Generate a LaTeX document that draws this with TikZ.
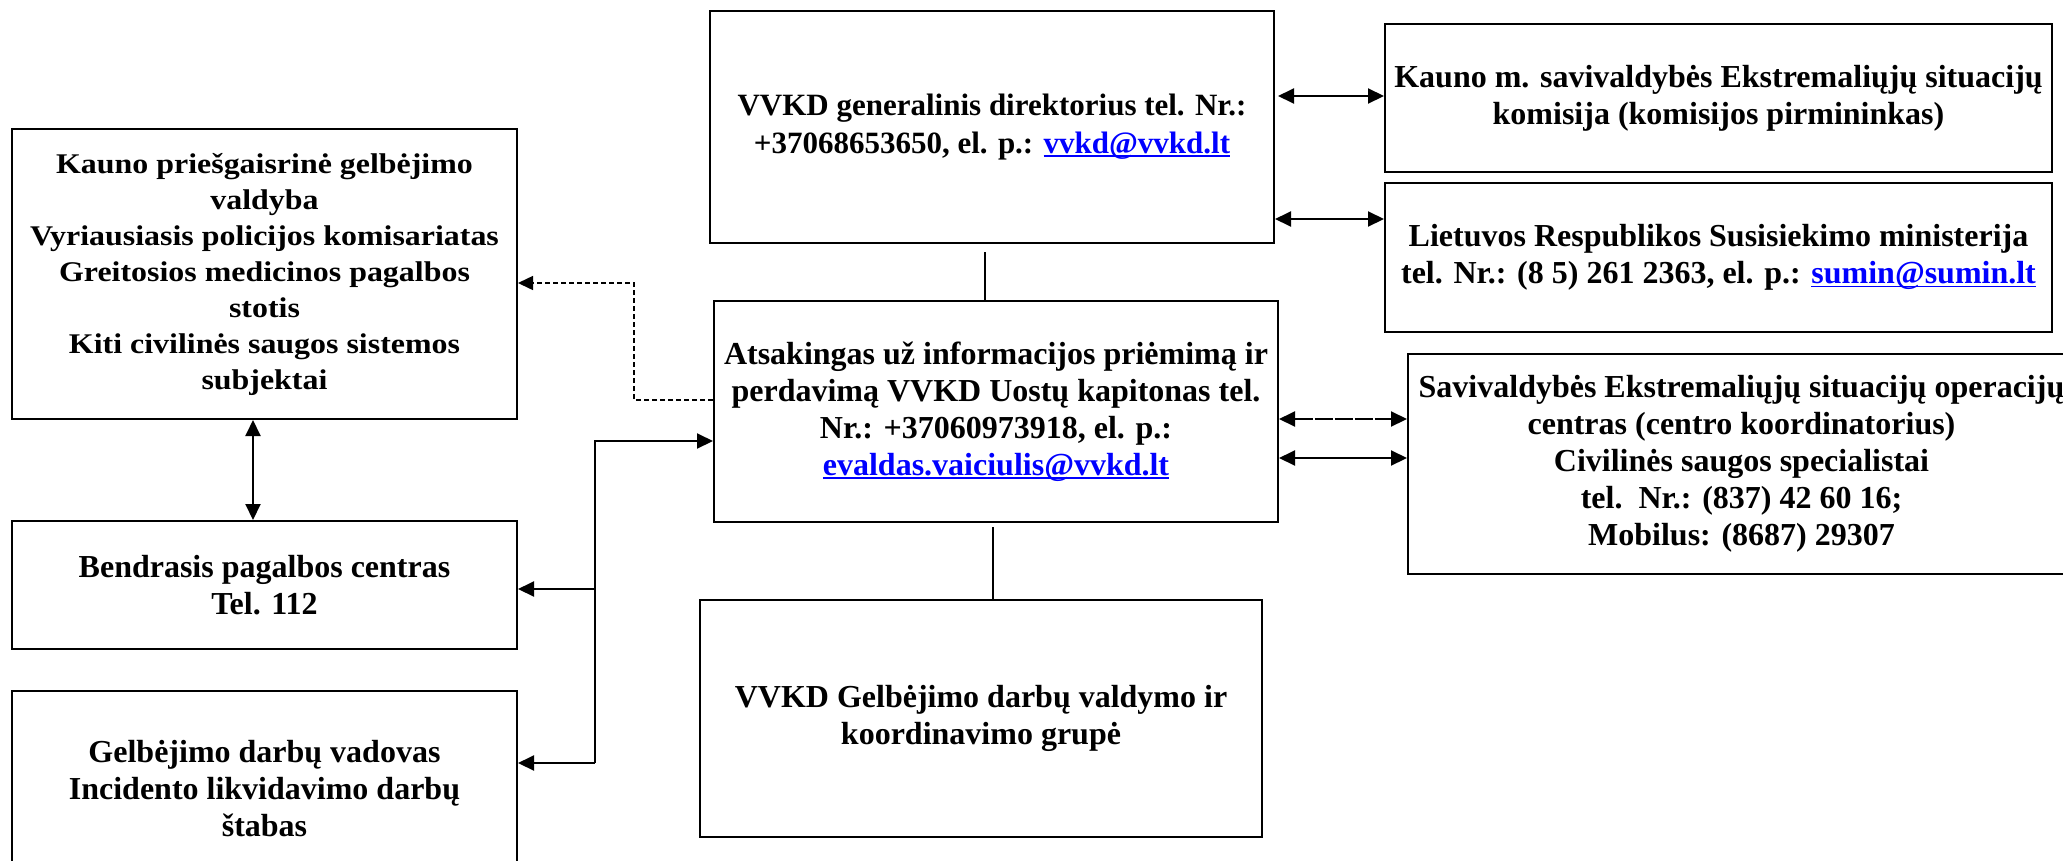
\documentclass[tikz,border=0pt]{standalone}
\usepackage{fontspec}
\setmainfont{Liberation Serif}
\newfontfamily\widefont{Liberation Serif}[FakeStretch=1.12]
\usetikzlibrary{arrows.meta}
\definecolor{linkblue}{RGB}{0,0,255}
\newcommand\mylink[1]{\textcolor{linkblue}{\setbox0\hbox{#1}\rlap{\rule[-3.5pt]{\wd0}{1.6pt}}\box0}}
\begin{document}
\begin{tikzpicture}[x=1pt,y=-1pt,
  box/.style={draw, line width=2pt, align=center, inner sep=0pt,
    font=\bfseries\fontsize{32}{37}\selectfont},
  conn/.style={line width=2pt},
  thinconn/.style={line width=1.3pt},
  tip/.style={conn,-{Triangle[length=16pt,width=15pt]}},
  dbl/.style={conn,{Triangle[length=16pt,width=15pt]}-{Triangle[length=16pt,width=15pt]}},
  dashconn/.style={line width=1.5pt, dash pattern=on 5pt off 3pt, -{Triangle[length=15pt,width=14pt]}}
]
\useasboundingbox (0,0) rectangle (2063,860);
\fill[white] (0,0) rectangle (2063,860);

% left column
\node[box, minimum width=505pt, minimum height=290pt,
  font=\widefont\bfseries\fontsize{28.5}{36}\selectfont] (A) at (264.5,274)
  {Kauno priešgaisrinė gelbėjimo\\ valdyba\\ Vyriausiasis policijos komisariatas\\
   Greitosios medicinos pagalbos\\ stotis\\ Kiti civilinės saugos sistemos\\ subjektai};
\node[box, minimum width=505pt, minimum height=128pt] (B) at (264.5,585)
  {Bendrasis pagalbos centras\\ Tel. 112};
\node[box, minimum width=505pt, minimum height=196pt] (C) at (264.5,789)
  {Gelbėjimo darbų vadovas\\ Incidento likvidavimo darbų\\ štabas};

% middle column
\node[box, minimum width=564pt, minimum height=232pt,
  font=\bfseries\fontsize{31}{38}\selectfont] (D) at (992,127)
  {VVKD generalinis direktorius tel. Nr.:\\ +37068653650, el. p.: \mylink{vvkd@vvkd.lt}};
\node[box, minimum width=564pt, minimum height=221pt] (E) at (996,411.5)
  {Atsakingas už informacijos priėmimą ir\\ perdavimą VVKD Uostų kapitonas tel.\\
   Nr.: +37060973918, el. p.:\\ \mylink{evaldas.vaiciulis@vvkd.lt}};
\node[box, minimum width=562pt, minimum height=237pt] (G) at (981,718.5)
  {VVKD Gelbėjimo darbų valdymo ir\\ koordinavimo grupė};

% right column
\node[box, minimum width=667pt, minimum height=148pt] (F) at (1718.5,98)
  {Kauno m. savivaldybės Ekstremaliųjų situacijų\\ komisija (komisijos pirmininkas)};
\node[box, minimum width=667pt, minimum height=149pt] (H) at (1718.5,257.5)
  {Lietuvos Respublikos Susisiekimo ministerija\\ tel. Nr.: (8 5) 261 2363, el. p.: \mylink{sumin@sumin.lt}};
\node[box, minimum width=667pt, minimum height=220pt] (I) at (1741.5,464)
  {Savivaldybės Ekstremaliųjų situacijų operacijų\\ centras (centro koordinatorius)\\
   Civilinės saugos specialistai\\ tel.\ \ Nr.: (837) 42 60 16;\\ Mobilus: (8687) 29307};

% helper coordinates
\coordinate (d1) at (634,400);
\coordinate (d2) at (634,283);
\coordinate (s1) at (595,441);
\coordinate (s2) at (595,589);
\coordinate (s3) at (595,763);
\coordinate (ab) at (253,0);
\coordinate (de) at (985,252);
\coordinate (eg) at (993,527);
\coordinate (r1) at (1278,96);
\coordinate (r2) at (0,219);
\coordinate (r3) at (0,419);
\coordinate (r4) at (0,458);

% connectors
\draw[dbl] (A.south -| ab) -- (B.north -| ab);
\draw[dashconn] (E.west |- d1) -- (d1) -- (d2) -- (A.east |- d2);
\draw[tip] (s3) -- (s1) -- (E.west |- s1);
\draw[tip] (s2) -- (B.east |- s2);
\draw[tip] (s3) -- (C.east |- s3);

\draw[thinconn] (de) -- (E.north -| de);
\draw[thinconn] (eg) -- (G.north -| eg);

\draw[dbl] (r1) -- (F.west |- r1);
\draw[dbl] (D.east |- r2) -- (H.west |- r2);
\draw[dbl, dash pattern=on 18pt off 2pt] (E.east |- r3) -- (I.west |- r3);
\draw[dbl] (E.east |- r4) -- (I.west |- r4);
\end{tikzpicture}
\end{document}
